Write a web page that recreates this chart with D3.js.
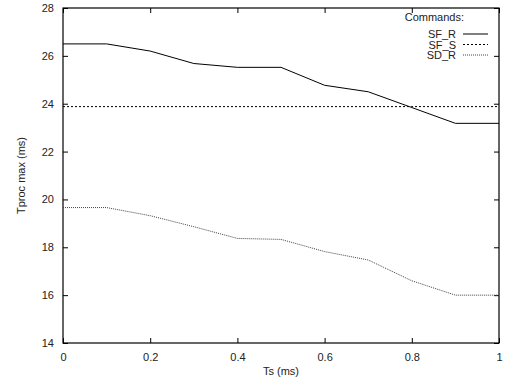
<!DOCTYPE html>
<html><head><meta charset="utf-8">
<script src="https://cdn.jsdelivr.net/npm/d3@7"></script>
<style>body{margin:0;background:#fff}svg{display:block}text{font-family:"Liberation Sans",Arial,Helvetica,sans-serif;fill:#222}</style>
</head><body>
<svg id="c" width="511" height="382"></svg>
<script>
const tsValues = [0, 0.1, 0.2, 0.3, 0.4, 0.5, 0.6, 0.7, 0.8, 0.9, 1.0];
const sfR = [26.5, 26.5, 26.2, 25.68, 25.52, 25.52, 24.77, 24.5, 23.84, 23.18, 23.18];
const sfS = [23.88, 23.88, 23.88, 23.88, 23.88, 23.88, 23.88, 23.88, 23.88, 23.88, 23.88];
const sdR = [19.66, 19.66, 19.32, 18.86, 18.37, 18.33, 17.82, 17.47, 16.6, 16.0, 16.0];
const xTicks = [0, 0.2, 0.4, 0.6, 0.8, 1];
const yTicks = [14, 16, 18, 20, 22, 24, 26, 28];
const seriesNames = ["SF_R", "SF_S", "SD_R"];

const svg = d3.select("#c");
const L = 63, R = 499, T = 8, B = 343;
const x = d3.scaleLinear().domain([0, 1]).range([L, R]);
const y = d3.scaleLinear().domain([14, 28]).range([B, T]);

const styles = [
  {stroke: "#000", dash: null, w: 1},
  {stroke: "#000", dash: "2,2", w: 1},
  {stroke: "#444", dash: "1,1", w: 1}
];
const data = [sfR, sfS, sdR];

const tl = 5;
const axB = d3.axisBottom(x).tickValues(xTicks).tickFormat(d3.format("")).tickSizeInner(-tl).tickSizeOuter(0).tickPadding(10);
const axT = d3.axisTop(x).tickValues(xTicks).tickFormat("").tickSizeInner(-tl).tickSizeOuter(0);
const axL = d3.axisLeft(y).tickValues(yTicks).tickFormat(d3.format("")).tickSizeInner(-tl).tickSizeOuter(0).tickPadding(9);
const axR = d3.axisRight(y).tickValues(yTicks).tickFormat("").tickSizeInner(-tl).tickSizeOuter(0);

function styleAxis(g){
  g.select(".domain").remove();
  g.selectAll("line").attr("stroke", "#000");
  g.selectAll("text").attr("font-size", 11).attr("fill", "#222").attr("font-family", "Liberation Sans, Arial, sans-serif");
}
svg.append("g").attr("transform", `translate(0,${B})`).call(axB).call(styleAxis);
svg.append("g").attr("transform", `translate(0,${T})`).call(axT).call(styleAxis);
svg.append("g").attr("transform", `translate(${L},0)`).call(axL).call(styleAxis);
svg.append("g").attr("transform", `translate(${R},0)`).call(axR).call(styleAxis);

svg.append("rect").attr("x", L).attr("y", T).attr("width", R - L).attr("height", B - T)
  .attr("fill", "none").attr("stroke", "#000").attr("stroke-width", 1.2);

const line = d3.line().x((d, i) => x(tsValues[i])).y(d => y(d));
data.forEach((arr, k) => {
  svg.append("path").datum(arr).attr("d", line).attr("fill", "none")
    .attr("stroke", styles[k].stroke).attr("stroke-width", styles[k].w)
    .attr("stroke-dasharray", styles[k].dash);
});

svg.append("text").attr("x", (L + R) / 2).attr("y", 375).attr("text-anchor", "middle").attr("font-size", 11).text("Ts (ms)");
svg.append("text").attr("transform", `translate(25,${(T + B) / 2}) rotate(-90)`).attr("text-anchor", "middle").attr("font-size", 11).text("Tproc max (ms)");

svg.append("text").attr("x", 464).attr("y", 21).attr("text-anchor", "end").attr("font-size", 11).text("Commands:");
seriesNames.forEach((n, k) => {
  const yy = 34 + k * 10.5;
  svg.append("text").attr("x", 456).attr("y", yy + 4).attr("text-anchor", "end").attr("font-size", 11).text(n);
  svg.append("line").attr("x1", 463).attr("x2", 488).attr("y1", yy).attr("y2", yy)
    .attr("stroke", styles[k].stroke).attr("stroke-width", styles[k].w).attr("stroke-dasharray", styles[k].dash);
});
</script>
</body></html>
